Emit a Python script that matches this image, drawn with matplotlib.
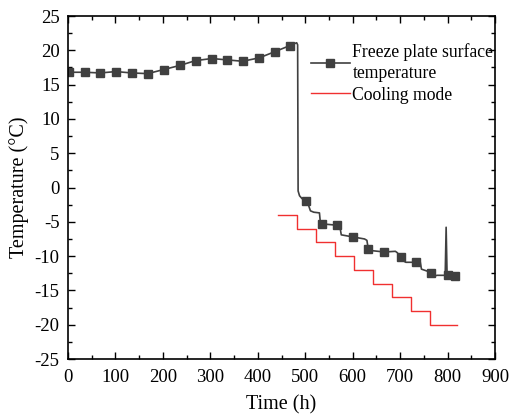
import numpy as np
import matplotlib
matplotlib.use('Agg')
import matplotlib.pyplot as plt
from matplotlib.ticker import MultipleLocator

plt.rcParams['font.family'] = ['Liberation Serif', 'DejaVu Serif']
plt.rcParams['axes.unicode_minus'] = False

# freeze plate surface temperature
plate_time = [0, 3, 35, 68, 101, 134, 168, 202, 236, 269, 303, 336, 368, 403, 436, 468,
              482, 484, 485, 488, 493, 501, 507, 511, 518, 530, 532, 535, 568, 573, 576,
              600, 625, 630, 633, 640, 667, 690, 694, 699, 702, 705, 712, 733, 742, 745,
              766, 772, 778, 795, 797, 799, 800, 816]
plate_temp = [16.9, 16.8, 16.8, 16.7, 16.9, 16.7, 16.6, 17.2, 17.8, 18.5, 18.8, 18.6, 18.4,
              18.9, 19.8, 20.7, 21.1, 20.8, -0.5, -1.2, -1.6, -2.0, -2.6, -3.4, -3.6, -3.7,
              -5.2, -5.3, -5.5, -5.7, -6.9, -7.2, -7.5, -7.7, -9.0, -9.2, -9.4, -9.3, -9.5,
              -10.0, -10.2, -10.6, -10.9, -10.9, -10.7, -11.9, -12.4, -12.9, -12.8, -12.8,
              -5.8, -12.7, -12.7, -12.9]
marker_times = [3, 35, 68, 101, 134, 168, 202, 236, 269, 303, 336, 368, 403, 436, 468,
                501, 535, 568, 600, 633, 667, 702, 733, 766, 800, 816]

# cooling mode set points (step changes)
mode_time = [443, 483, 523, 563, 603, 643, 683, 723, 763, 820]
mode_temp = [-4, -6, -8, -10, -12, -14, -16, -18, -20, -20]

marker_idx = [plate_time.index(t) for t in marker_times]

fig = plt.figure(figsize=(5.09, 4.2), dpi=100)
ax = fig.add_axes([0.1336, 0.1452, 0.8389, 0.8167])

ax.plot(plate_time, plate_temp, color='#404040', lw=1.2, marker='s', ms=5.5,
        markevery=marker_idx, label='Freeze plate surface\ntemperature')
ax.step(mode_time, mode_temp, where='post', color='#f03030', lw=1.0, label='Cooling mode')

ax.set_xlim(0, 900)
ax.set_ylim(-25, 25)
ax.xaxis.set_major_locator(MultipleLocator(100))
ax.xaxis.set_minor_locator(MultipleLocator(50))
ax.yaxis.set_major_locator(MultipleLocator(5))
ax.yaxis.set_minor_locator(MultipleLocator(2.5))
ax.tick_params(which='both', direction='in', top=True, right=True, labelsize=13.5, width=1)
ax.tick_params(which='major', length=5)
ax.tick_params(axis='x', which='major', pad=7)
ax.tick_params(axis='y', which='major', pad=6)
ax.tick_params(which='minor', length=3)
for s in ax.spines.values():
    s.set_linewidth(1.2)

ax.set_xlabel('Time (h)', fontsize=14.5, labelpad=7)
ax.set_ylabel('Temperature (°C)', fontsize=14.5, labelpad=4)

leg = ax.legend(loc='upper left', bbox_to_anchor=(0.569, 0.922), frameon=False, fontsize=12.7,
                handlelength=2.2, handletextpad=0.15, borderpad=0, borderaxespad=0,
                labelspacing=0.25)
for t in leg.get_texts():
    t.set_linespacing(1.35)

fig.savefig('out.png', dpi=100)
